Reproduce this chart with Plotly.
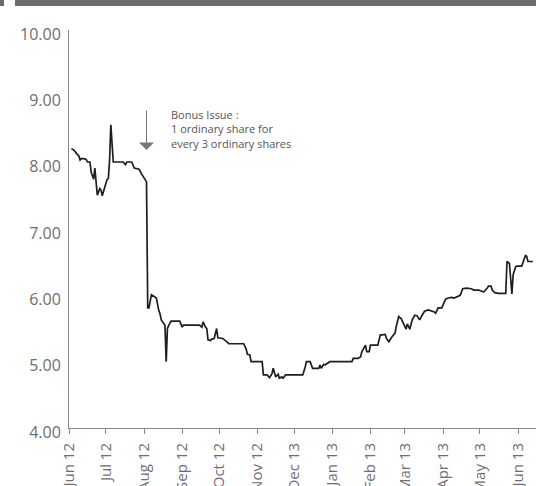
import plotly.graph_objects as go

# Share price data (date, price)
dates = [
    "2012-06-03", "2012-06-05", "2012-06-07", "2012-06-09", "2012-06-10", "2012-06-11",
    "2012-06-13", "2012-06-15", "2012-06-16", "2012-06-18", "2012-06-19", "2012-06-21",
    "2012-06-22", "2012-06-23", "2012-06-24", "2012-06-26", "2012-06-27", "2012-06-28",
    "2012-06-30", "2012-07-02", "2012-07-03", "2012-07-04", "2012-07-05", "2012-07-06",
    "2012-07-07", "2012-07-15", "2012-07-17", "2012-07-18", "2012-07-22", "2012-07-24",
    "2012-07-28", "2012-07-30", "2012-08-02", "2012-08-03", "2012-08-04", "2012-08-05",
    "2012-08-07", "2012-08-08", "2012-08-10", "2012-08-11", "2012-08-13", "2012-08-14",
    "2012-08-15", "2012-08-17", "2012-08-18", "2012-08-19", "2012-08-20", "2012-08-22",
    "2012-08-23", "2012-08-30", "2012-09-01", "2012-09-02", "2012-09-15", "2012-09-17",
    "2012-09-18", "2012-09-20", "2012-09-21", "2012-09-22", "2012-09-24", "2012-09-25",
    "2012-09-27", "2012-09-29", "2012-09-30", "2012-10-04", "2012-10-07", "2012-10-09",
    "2012-10-21", "2012-10-23", "2012-10-24", "2012-10-26", "2012-10-27", "2012-11-05",
    "2012-11-06", "2012-11-09", "2012-11-11", "2012-11-13", "2012-11-14", "2012-11-16",
    "2012-11-18", "2012-11-19", "2012-11-21", "2012-11-22", "2012-11-24", "2012-12-08",
    "2012-12-10", "2012-12-11", "2012-12-14", "2012-12-16", "2012-12-21", "2012-12-22",
    "2012-12-23", "2012-12-25", "2012-12-26", "2012-12-28", "2012-12-30", "2013-01-17",
    "2013-01-18", "2013-01-22", "2013-01-24", "2013-01-25", "2013-01-28", "2013-01-29",
    "2013-01-31", "2013-02-01", "2013-02-07", "2013-02-09", "2013-02-13", "2013-02-14",
    "2013-02-16", "2013-02-18", "2013-02-21", "2013-02-22", "2013-02-24", "2013-02-26",
    "2013-02-28", "2013-03-02", "2013-03-03", "2013-03-05", "2013-03-07", "2013-03-09",
    "2013-03-11", "2013-03-13", "2013-03-15", "2013-03-17", "2013-03-20", "2013-03-23",
    "2013-03-25", "2013-03-26", "2013-03-28", "2013-03-31", "2013-04-02", "2013-04-03",
    "2013-04-05", "2013-04-08", "2013-04-10", "2013-04-12", "2013-04-15", "2013-04-17",
    "2013-04-20", "2013-04-24", "2013-04-26", "2013-04-30", "2013-05-04", "2013-05-07",
    "2013-05-08", "2013-05-10", "2013-05-11", "2013-05-13", "2013-05-16", "2013-05-22",
    "2013-05-23", "2013-05-25", "2013-05-27", "2013-05-28", "2013-05-30", "2013-05-31",
    "2013-06-04", "2013-06-07", "2013-06-08", "2013-06-09", "2013-06-13",
]
prices = [
    8.21, 8.19, 8.14, 8.10, 8.04, 8.06,
    8.06, 8.05, 8.01, 8.01, 7.86, 7.75,
    7.92, 7.71, 7.51, 7.61, 7.59, 7.50,
    7.64, 7.75, 7.76, 8.04, 8.57, 8.24,
    8.01, 8.01, 7.97, 8.01, 8.01, 7.92,
    7.90, 7.83, 7.74, 7.71, 5.81, 5.81,
    6.01, 6.00, 5.97, 5.96, 5.77, 5.72,
    5.63, 5.58, 5.55, 5.00, 5.50, 5.58,
    5.61, 5.61, 5.52, 5.55, 5.55, 5.52,
    5.60, 5.52, 5.50, 5.33, 5.32, 5.34,
    5.35, 5.50, 5.36, 5.35, 5.30, 5.27,
    5.27, 5.19, 5.11, 5.10, 5.00, 5.00,
    4.80, 4.80, 4.76, 4.82, 4.90, 4.77,
    4.81, 4.75, 4.77, 4.75, 4.80, 4.80,
    4.92, 5.00, 5.00, 4.90, 4.90, 4.95,
    4.90, 4.96, 4.95, 4.98, 5.00, 5.00,
    5.05, 5.05, 5.07, 5.15, 5.25, 5.15,
    5.15, 5.25, 5.25, 5.40, 5.41, 5.35,
    5.30, 5.36, 5.43, 5.53, 5.68, 5.65,
    5.58, 5.49, 5.57, 5.49, 5.63, 5.70,
    5.69, 5.63, 5.70, 5.76, 5.78, 5.76,
    5.75, 5.73, 5.81, 5.81, 5.90, 5.94,
    5.96, 5.97, 5.96, 5.98, 6.00, 6.10,
    6.11, 6.10, 6.08, 6.08, 6.05, 6.11,
    6.14, 6.14, 6.08, 6.04, 6.03, 6.03,
    6.51, 6.48, 6.02, 6.31, 6.43, 6.44,
    6.44, 6.60, 6.59, 6.51, 6.51,
]

tick_dates = ["2012-06-01", "2012-07-01", "2012-08-01", "2012-09-01", "2012-10-01",
              "2012-11-01", "2012-12-01", "2013-01-01", "2013-02-01", "2013-03-01",
              "2013-04-01", "2013-05-01", "2013-06-01"]
tick_labels = ["Jun 12", "Jul 12", "Aug 12", "Sep 12", "Oct 12", "Nov 12", "Dec 13",
               "Jan 13", "Feb 13", "Mar 13", "Apr 13", "May 13", "Jun 13"]
y_ticks = [4, 5, 6, 7, 8, 9, 10]
y_labels = ["4.00", "5.00", "6.00", "7.00", "8.00", "9.00", "10.00"]

event_date = "2012-08-03"
event_text = "Bonus Issue :<br>1 ordinary share for<br>every 3 ordinary shares"

FONT = "Open Sans"
GREY = "#6d6e71"

fig = go.Figure()
fig.add_trace(go.Scatter(
    x=dates, y=prices, mode="lines",
    line=dict(color="#1e1e1e", width=1.7),
    hoverinfo="skip", showlegend=False,
))

fig.update_layout(
    width=536, height=486,
    margin=dict(l=69, r=0, t=30, b=58, autoexpand=False),
    paper_bgcolor="white", plot_bgcolor="white",
    font=dict(family=FONT, color=GREY),
    showlegend=False,
    xaxis=dict(
        type="date",
        range=["2012-06-01", "2013-06-15 14:00"],
        tickvals=tick_dates, ticktext=tick_labels,
        tickangle=-90,
        ticks="outside", ticklen=5, tickcolor="#888", tickwidth=1,
        showline=True, linecolor="#888", linewidth=1,
        showgrid=False, zeroline=False,
        tickfont=dict(family=FONT, size=15, color=GREY),
        ticklabelstandoff=3,
        automargin=False,
        fixedrange=True,
    ),
    yaxis=dict(
        range=[4, 10],
        tickvals=y_ticks, ticktext=y_labels,
        ticks="", showline=True, linecolor="#888", linewidth=1,
        showgrid=False, zeroline=False,
        tickfont=dict(family=FONT, size=16, color=GREY),
        ticklabelstandoff=4,
        ticklabelshift=4,
        automargin=False,
        fixedrange=True,
    ),
    shapes=[
        dict(type="rect", xref="paper", yref="paper",
             x0=-0.1156, x1=1.0, y0=1.0603, y1=1.08,
             fillcolor="#6b6c70", line=dict(width=0), layer="above"),
        dict(type="rect", xref="paper", yref="paper",
             x0=-0.1478, x1=-0.1392, y0=1.0603, y1=1.08,
             fillcolor="#6b6c70", line=dict(width=0), layer="above"),
    ],
    annotations=[
        dict(x=event_date, y=8.19, xref="x", yref="y",
             ax=event_date, ay=8.81, axref="x", ayref="y",
             text="", showarrow=True, arrowhead=1, arrowsize=2.5,
             arrowwidth=1, arrowcolor="#777"),
        dict(x=0.2141, y=0.812, xref="paper", yref="paper",
             xanchor="left", yanchor="top", align="left",
             text=event_text, showarrow=False,
             font=dict(family=FONT, size=11, color="#555")),
    ],
)

fig.write_html("out.html")
